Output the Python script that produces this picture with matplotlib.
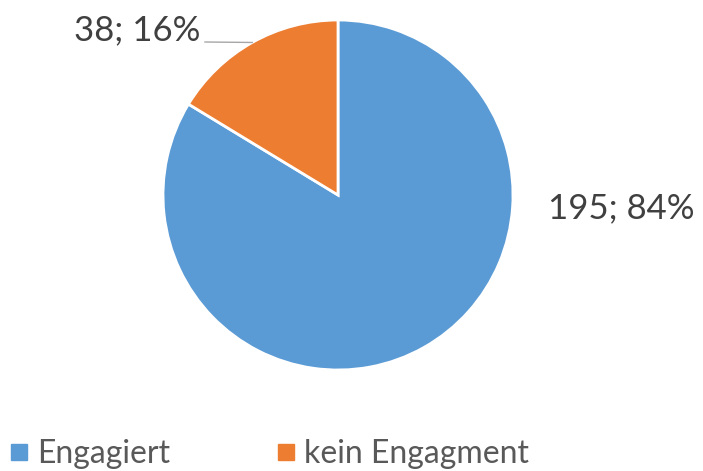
import numpy as np
import matplotlib.pyplot as plt
from matplotlib.lines import Line2D

categories = ["Engagiert", "kein Engagment"]
counts = [195, 38]
colors = ["#5B9BD5", "#ED7D31"]

plt.rcParams["font.family"] = ["Lato", "DejaVu Sans"]

W, H = 703, 471
fig = plt.figure(figsize=(W / 100, H / 100), dpi=100)
ax = fig.add_axes([0, 0, 1, 1])
ax.set_xlim(0, W)
ax.set_ylim(0, H)
ax.set_aspect("equal")
ax.axis("off")

cx, cy, r = 338, H - 195, 175
wedges, _ = ax.pie(counts, colors=colors, startangle=90, counterclock=False,
                   center=(cx, cy), radius=r,
                   wedgeprops=dict(edgecolor="white", linewidth=2))
ax.set_xlim(0, W)
ax.set_ylim(0, H)

total = sum(counts)
pct = [round(100 * c / total) for c in counts]
txt_color = "#404040"

# Engagiert label on the right
ax.text(548, H - 208, f"{counts[0]}; {pct[0]}%", fontsize=25, color=txt_color,
        ha="left", va="center")

# kein Engagment label with leader line
w = wedges[1]
mid = np.deg2rad((w.theta1 + w.theta2) / 2)
ex, ey = cx + r * np.cos(mid), cy + r * np.sin(mid)
ax.plot([205, ex], [H - 42, ey], color="#A6A6A6", linewidth=1)
ax.text(200, H - 30, f"{counts[1]}; {pct[1]}%", fontsize=25, color=txt_color,
        ha="right", va="center")

handles = [Line2D([], [], marker="s", linestyle="none", markersize=11.5,
                  markerfacecolor=c, markeredgecolor=c) for c in colors]
fig.legend(handles, categories, loc="lower left", bbox_to_anchor=(8 / W, 2 / H),
           ncol=2, frameon=False, fontsize=23, labelcolor="#595959",
           borderpad=0, borderaxespad=0,
           handletextpad=0.2, columnspacing=3.3, handlelength=0.7)

fig.savefig("out.png", dpi=100)
